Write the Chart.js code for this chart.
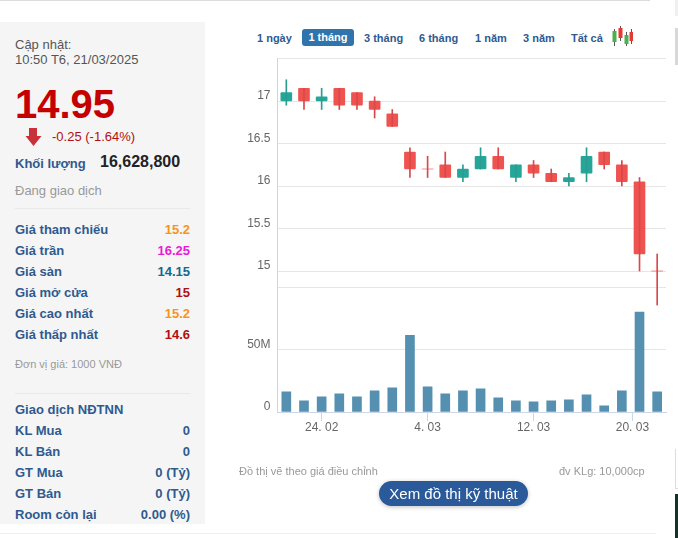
<!DOCTYPE html>
<html lang="vi">
<head>
<meta charset="utf-8">
<title>14.95</title>
<script src="https://cdn.jsdelivr.net/npm/chart.js@4"></script>
<style>
  html, body { margin: 0; padding: 0; background: #fff; overflow: hidden; }
  body { width: 678px; height: 538px; position: relative; font-family: "Liberation Sans", Arial, sans-serif; }
  .abs { position: absolute; white-space: nowrap; }
  #panel { position: absolute; left: 0; top: 22px; width: 205px; height: 502px; background: #f5f5f5; }
  .rule { position: absolute; background: #e9e9e9; height: 1px; }
  .row { position: absolute; left: 15px; width: 175px; font-size: 13px; font-weight: bold; color: #2f5a8f; height: 18px; line-height: 18px; }
  .row span { position: absolute; right: 0; top: 0; }
  #ranges span { position: absolute; top: 0; font-size: 11px; font-weight: bold; color: #2f5a8f; line-height: 18px; white-space: nowrap; }
  #ranges .on { background: #2f74ac; color: #fff; border-radius: 3px; height: 17px; line-height: 17px; text-align: center; }
  #chartBox { position: absolute; left: 230px; top: 50px; width: 448px; height: 420px; }
  #chartBox canvas { display: block; }
  #techBtn { position: absolute; left: 379px; top: 481px; width: 149px; height: 25px; line-height: 25px; border-radius: 13px; background: #2a5a9a; color: #fff; font-size: 15px; text-align: center; box-shadow: 0 1px 4px rgba(0,0,0,.25); }
</style>
</head>
<body>
<div class="rule" style="left:0;top:0;width:650px;background:#ddd"></div>
<div id="panel"></div>
<div class="abs" style="left:15px;top:37px;font-size:13px;line-height:15px;color:#555">Cập nhật:<br>10:50 T6, 21/03/2025</div>
<div class="abs" style="left:15px;top:81px;font-size:40px;line-height:46px;font-weight:bold;color:#c40000">14.95</div>
<svg class="abs" style="left:25px;top:128px" width="17" height="18"><path d="M4 0h8v8h4.500L8.500 18 0.500 8H4z" fill="#c9303a"/></svg>
<div class="abs" style="left:52px;top:129px;font-size:13px;line-height:16px;color:#b01010">-0.25 (-1.64%)</div>
<div class="abs" style="left:15px;top:155px;font-size:13px;line-height:18px;font-weight:bold;color:#2f5a8f">Khối lượng</div>
<div class="abs" style="left:100px;top:152px;font-size:16px;line-height:20px;font-weight:bold;color:#222">16,628,800</div>
<div class="abs" style="left:15px;top:182px;font-size:13px;line-height:18px;color:#999">Đang giao dịch</div>
<div class="rule" style="left:15px;top:208px;width:175px"></div>

<div class="row" style="top:221px">Giá tham chiếu<span style="color:#f7941d">15.2</span></div>
<div class="row" style="top:242px">Giá trần<span style="color:#e81cd6">16.25</span></div>
<div class="row" style="top:263px">Giá sàn<span style="color:#14698f">14.15</span></div>
<div class="row" style="top:284px">Giá mở cửa<span style="color:#b01010">15</span></div>
<div class="row" style="top:305px">Giá cao nhất<span style="color:#f7941d">15.2</span></div>
<div class="row" style="top:326px">Giá thấp nhất<span style="color:#b01010">14.6</span></div>
<div class="abs" style="left:15px;top:357px;font-size:11px;line-height:14px;color:#999">Đơn vị giá: 1000 VNĐ</div>
<div class="rule" style="left:15px;top:393px;width:175px"></div>

<div class="row" style="top:401px">Giao dịch NĐTNN</div>
<div class="row" style="top:422px">KL Mua<span>0</span></div>
<div class="row" style="top:443px">KL Bán<span>0</span></div>
<div class="row" style="top:464px">GT Mua<span>0 (Tỷ)</span></div>
<div class="row" style="top:485px">GT Bán<span>0 (Tỷ)</span></div>
<div class="row" style="top:506px">Room còn lại<span>0.00 (%)</span></div>

<div id="ranges" class="abs" style="left:0;top:29px;width:0;height:18px">
  <span style="left:257px">1 ngày</span>
  <span class="on" style="left:302px;width:52px">1 tháng</span>
  <span style="left:364px">3 tháng</span>
  <span style="left:419px">6 tháng</span>
  <span style="left:475px">1 năm</span>
  <span style="left:523px">3 năm</span>
  <span style="left:571px">Tất cả</span>
</div>
<svg class="abs" style="left:611px;top:26px" width="22" height="20">
  <path d="M3.500 3v17M9.500 0v15M15.500 6v14M20.500 3v15" stroke="#555" stroke-width="1" fill="none"/>
  <rect x="1.500" y="5" width="4" height="11" fill="#4caf50"/>
  <rect x="7.500" y="2" width="4" height="10" fill="#e53935"/>
  <rect x="13.500" y="9" width="4" height="9" fill="#4caf50"/>
  <rect x="18.500" y="6" width="4" height="9" fill="#e53935"/>
</svg>

<div id="chartBox"><canvas id="stockChart" width="448" height="420"></canvas></div>

<div class="abs" style="left:239px;top:464px;font-size:11px;line-height:14px;color:#999">Đồ thị vẽ theo giá điều chỉnh</div>
<div class="abs" style="left:559px;top:464px;font-size:11px;line-height:14px;color:#999">đv KLg: 10,000cp</div>
<div id="techBtn">Xem đồ thị kỹ thuật</div>
<div class="rule" style="left:0;top:533px;width:656px;background:#eee"></div>

<!-- bits of the neighbouring page column that show at the right edge -->
<div class="abs" style="left:675px;top:0;width:3px;height:16px;background:#f0f0f0"></div>
<div class="abs" style="left:675px;top:28px;width:3px;height:37px;background:#d8d8d8"></div>
<div class="abs" style="left:675px;top:449px;width:3px;height:40px;border-left:1px solid #ddd;border-bottom:1px solid #ddd;box-sizing:border-box"></div>
<div class="abs" style="left:675px;top:494px;width:3px;height:44px;background:#12332a"></div>

<script>
  // one entry per session
  const sessions = ["20.02","21.02","24.02","25.02","26.02","27.02","28.02","3.03","4.03","5.03","6.03","7.03","10.03","11.03","12.03","13.03","14.03","17.03","18.03","19.03","20.03","21.03"];
  const opens  = [17, 17.15, 17, 17.15, 17.1, 17, 16.85, 16.4, 16.2, 16.25, 16.1, 16.2, 16.35, 16.1, 16.25, 16.15, 16.05, 16.15, 16.4, 16.25, 16.05, 15];
  const closes = [17.1, 17, 17.05, 16.95, 16.95, 16.9, 16.7, 16.2, 16.2, 16.1, 16.2, 16.35, 16.2, 16.25, 16.15, 16.05, 16.1, 16.35, 16.25, 16.05, 15.2, 15];
  const highs  = [17.25, 17.15, 17.15, 17.15, 17.1, 17.05, 16.9, 16.45, 16.35, 16.4, 16.25, 16.45, 16.45, 16.25, 16.3, 16.2, 16.15, 16.45, 16.4, 16.3, 16.1, 15.2];
  const lows   = [16.95, 16.9, 16.9, 16.9, 16.9, 16.8, 16.7, 16.1, 16.1, 16.1, 16.05, 16.2, 16.2, 16.05, 16.1, 16.05, 16, 16.05, 16.2, 16, 15, 14.6];
  const volumes = [16.2, 8.9, 12.2, 14.6, 12.2, 17, 19.5, 61.6, 20.3, 14.6, 17, 18.6, 11.4, 8.9, 8.1, 8.9, 9.7, 13.8, 4.9, 17, 80.3, 16.2];

  const priceTicks = [15, 15.5, 16, 16.5, 17, 17.5];
  const volumeTicks = [0, 50, 100];
  const xTickPositions = [2, 8, 14, 19.6];
  const xTickLabels = ["24. 02", "4. 03", "12. 03", "20. 03"];

  const RED = "#ef5350";
  const TEAL = "#26a69a";
  const isDown = (i) => closes[i] <= opens[i];
  const candleColors = sessions.map((_, i) => (isDown(i) ? RED : TEAL));
  const wickColors = sessions.map((_, i) => (isDown(i) ? "#d9484c" : "#2a9d8f"));

  // fixed column for the y labels, and no extra room reserved for them above the pane
  const fitYAxis = (axis) => {
    axis.width = 47.5;
    axis.paddingTop = 0;
    axis.paddingBottom = 0;
  };

  const ctx = document.getElementById("stockChart").getContext("2d");
  new Chart(ctx, {
    type: "bar",
    data: {
      datasets: [
        {
          label: "Khối lượng",
          yAxisID: "yVolume",
          data: sessions.map((_, i) => ({ x: i, y: volumes[i] })),
          backgroundColor: "#5590b0",
          barThickness: 9,
          grouped: false,
        },
        {
          label: "Bấc",
          yAxisID: "yPrice",
          data: sessions.map((_, i) => ({ x: i, y: [lows[i], highs[i]] })),
          backgroundColor: wickColors,
          barThickness: 1,
          grouped: false,
          clip: false,
        },
        {
          label: "Giá",
          yAxisID: "yPrice",
          data: sessions.map((_, i) => ({ x: i, y: [opens[i], closes[i]] })),
          backgroundColor: candleColors,
          // doji sessions have open == close, they still show a short dash
          borderColor: wickColors,
          borderWidth: (c) => (opens[c.dataIndex] === closes[c.dataIndex] ? { top: 1, bottom: 0, left: 0, right: 0 } : 0),
          borderSkipped: false,
          borderRadius: 1,
          barThickness: 11,
          grouped: false,
          clip: false,
        },
      ],
    },
    options: {
      responsive: false,
      animation: false,
      events: [],
      layout: { autoPadding: false, padding: { left: 0, right: 12, top: 8.5, bottom: 0 } },
      plugins: { legend: { display: false }, tooltip: { enabled: false } },
      scales: {
        x: {
          type: "linear",
          offset: false,
          min: -0.5,
          max: 21.5,
          afterBuildTicks: (axis) => {
            axis.ticks = xTickPositions.map((value) => ({ value }));
          },
          afterFit: (axis) => { axis.height = 58; },
          grid: { display: true, offset: false, drawOnChartArea: false, tickLength: 9, color: "#ccd6eb" },
          border: { color: "#ccd6eb" },
          ticks: {
            autoSkip: false,
            maxRotation: 0,
            padding: -1,
            color: "#666",
            font: { family: "Liberation Sans", size: 12 },
            callback: (value) => xTickLabels[xTickPositions.indexOf(value)],
          },
        },
        yPrice: {
          position: "left",
          stack: "panes",
          stackWeight: 229,
          weight: 2,
          min: 14.806,
          max: 17.5,
          afterBuildTicks: (axis) => {
            axis.ticks = priceTicks.map((value) => ({ value }));
          },
          afterFit: fitYAxis,
          grid: { color: "#e6e6e6", drawTicks: false },
          border: { color: "#ccd6eb" },
          ticks: {
            padding: 7,
            labelOffset: -5,
            color: "#666",
            font: { family: "Liberation Sans", size: 12 },
            callback: (value) => (value === 17.5 ? "" : value),
          },
        },
        yVolume: {
          position: "left",
          stack: "panes",
          stackWeight: 124.5,
          weight: 1,
          min: 0,
          max: 100,
          afterBuildTicks: (axis) => {
            axis.ticks = volumeTicks.map((value) => ({ value }));
          },
          afterFit: fitYAxis,
          grid: { color: (c) => (c.tick.value === 0 ? "#ccd6eb" : "#e6e6e6"), drawTicks: false },
          border: { color: "#ccd6eb" },
          ticks: {
            padding: 7,
            labelOffset: -5,
            color: "#666",
            font: { family: "Liberation Sans", size: 12 },
            callback: (value) => (value === 0 ? "0" : value === 50 ? "50M" : ""),
          },
        },
      },
    },
  });
</script>
</body>
</html>
